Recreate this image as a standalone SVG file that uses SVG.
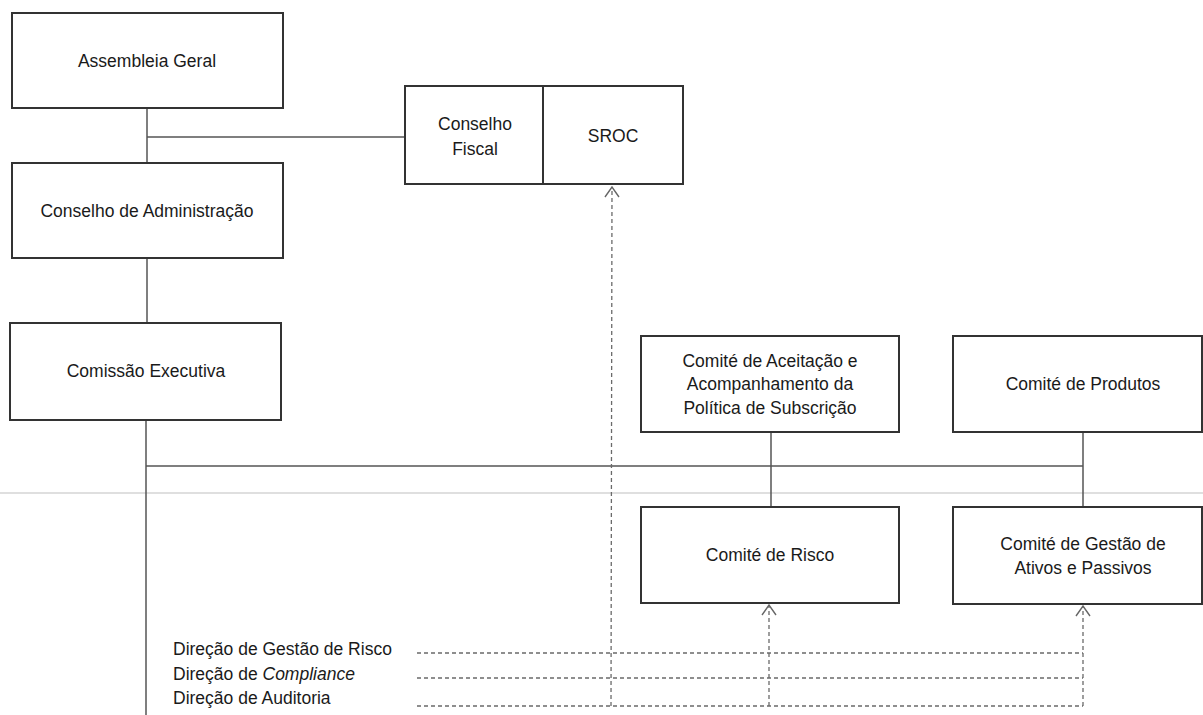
<svg xmlns="http://www.w3.org/2000/svg" width="1203" height="715" viewBox="0 0 1203 715">
<defs>
<style>
.box{fill:#fff;stroke:#333;stroke-width:2}
.t{font-family:"Liberation Sans",Arial,sans-serif;font-size:17.5px;fill:#1a1a1a;text-anchor:middle}
.tl{font-family:"Liberation Sans",Arial,sans-serif;font-size:17.5px;fill:#1a1a1a}
.ln{stroke:#555;stroke-width:1.5;fill:none}
.dash{stroke:#6a6a6a;stroke-width:1.3;stroke-dasharray:4 3;fill:none}
.faint{stroke:#d4d4d4;stroke-width:1.5}
</style>
<marker id="open" viewBox="0 0 12 16" refX="11" refY="8" markerWidth="12" markerHeight="16" markerUnits="userSpaceOnUse" orient="auto">
<path d="M1,1 L11,8 L1,15" fill="none" stroke="#666" stroke-width="1.4"/>
</marker>
</defs>
<rect width="1203" height="715" fill="#fff"/>
<line class="faint" x1="0" y1="493" x2="1203" y2="493"/>
<g id="connectors">
<line class="ln" x1="147" y1="108" x2="147" y2="163"/>
<line class="ln" x1="147" y1="137" x2="405" y2="137"/>
<line class="ln" x1="147" y1="258" x2="147" y2="323"/>
<line class="ln" x1="146" y1="420" x2="146" y2="715"/>
<line class="ln" x1="146" y1="466" x2="1083" y2="466"/>
<line class="ln" x1="771" y1="432" x2="771" y2="507"/>
<line class="ln" x1="1083" y1="432" x2="1083" y2="507"/>
<line class="dash" x1="417" y1="653" x2="1083" y2="653"/>
<line class="dash" x1="417" y1="678" x2="1083" y2="678"/>
<line class="dash" x1="417" y1="706" x2="1083" y2="706"/>
<line class="dash" x1="611" y1="706" x2="612" y2="187" marker-end="url(#open)"/>
<line class="dash" x1="769" y1="706" x2="769" y2="605" marker-end="url(#open)"/>
<line class="dash" x1="1083" y1="706" x2="1083" y2="606" marker-end="url(#open)"/>
</g>
<g id="assembleia">
<rect class="box" x="12" y="13" width="271" height="95"/>
<text class="t" x="147" y="67">Assembleia Geral</text>
</g>
<g id="conselho-admin">
<rect class="box" x="12" y="163" width="271" height="95"/>
<text class="t" x="147" y="217">Conselho de Administração</text>
</g>
<g id="comissao">
<rect class="box" x="10" y="323" width="271" height="97"/>
<text class="t" x="146" y="377">Comissão Executiva</text>
</g>
<g id="conselho-fiscal">
<rect class="box" x="405" y="86" width="138" height="98"/>
<text class="t" x="475" y="130">Conselho</text>
<text class="t" x="475" y="155">Fiscal</text>
</g>
<g id="sroc">
<rect class="box" x="543" y="86" width="140" height="98"/>
<text class="t" x="613" y="142">SROC</text>
</g>
<g id="comite-aceitacao">
<rect class="box" x="641" y="336" width="258" height="96"/>
<text class="t" x="770" y="367">Comité de Aceitação e</text>
<text class="t" x="770" y="390">Acompanhamento da</text>
<text class="t" x="770" y="414">Política de Subscrição</text>
</g>
<g id="comite-produtos">
<rect class="box" x="953" y="336" width="249" height="96"/>
<text class="t" x="1083" y="390">Comité de Produtos</text>
</g>
<g id="comite-risco">
<rect class="box" x="641" y="507" width="258" height="96"/>
<text class="t" x="770" y="561">Comité de Risco</text>
</g>
<g id="comite-gestao">
<rect class="box" x="953" y="507" width="249" height="97"/>
<text class="t" x="1083" y="550">Comité de Gestão de</text>
<text class="t" x="1083" y="574">Ativos e Passivos</text>
</g>
<g id="direcoes">
<text class="tl" x="173" y="655">Direção de Gestão de Risco</text>
<text class="tl" x="173" y="680">Direção de <tspan font-style="italic">Compliance</tspan></text>
<text class="tl" x="173" y="704">Direção de Auditoria</text>
</g>
</svg>
